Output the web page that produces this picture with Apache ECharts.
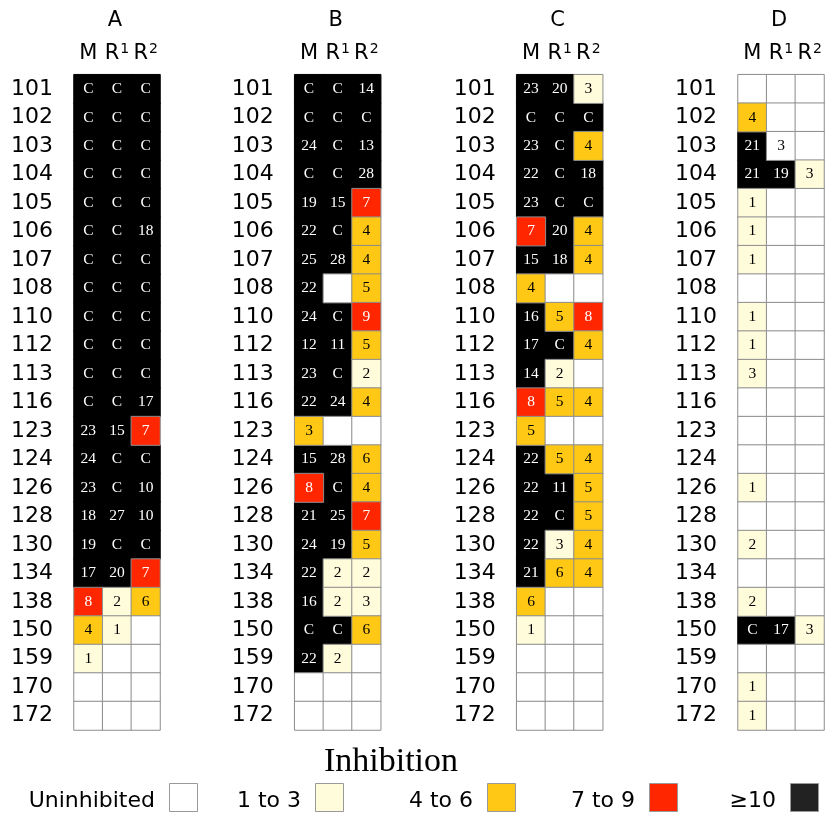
<!DOCTYPE html>
<html><head><meta charset="utf-8">
<script src="https://cdn.jsdelivr.net/npm/echarts@6/dist/echarts.min.js"></script>
<style>html,body{margin:0;padding:0;background:#fff}#c{width:827px;height:814px}</style>
</head><body><div id="c"></div>
<script>
const rows = ['101','102','103','104','105','106','107','108','110','112','113','116','123','124','126','128','130','134','138','150','159','170','172'];
const columns = ['M','R1','R2'];
const panels = ['A','B','C','D'];

const A_M  = ['C','C','C','C','C','C','C','C','C','C','C','C','23','24','23','18','19','17','8','4','1','',''];
const A_R1 = ['C','C','C','C','C','C','C','C','C','C','C','C','15','C','C','27','C','20','2','1','','',''];
const A_R2 = ['C','C','C','C','C','18','C','C','C','C','C','17','7','C','10','10','C','7','6','','','',''];

const B_M  = ['C','C','24','C','19','22','25','22','24','12','23','22','3','15','8','21','24','22','16','C','22','',''];
const B_R1 = ['C','C','C','C','15','C','28','','C','11','C','24','','28','C','25','19','2','2','C','2','',''];
const B_R2 = ['14','C','13','28','7','4','4','5','9','5','2','4','','6','4','7','5','2','3','6','','',''];

const C_M  = ['23','C','23','22','23','7','15','4','16','17','14','8','5','22','22','22','22','21','6','1','','',''];
const C_R1 = ['20','C','C','C','C','20','18','','5','C','2','5','','5','11','C','3','6','','','','',''];
const C_R2 = ['3','C','4','18','C','4','4','','8','4','','4','','4','5','5','4','4','','','','',''];

const D_M  = ['','4','21','21','1','1','1','','1','1','3','','','','1','','2','','2','C','','1','1'];
const D_R1 = ['','','3','19','','','','','','','','','','','','','','','','17','','',''];
const D_R2 = ['','','','3','','','','','','','','','','','','','','','','3','','',''];

// cells whose colour class differs from what the printed number suggests
const levelOverrides = [
  {panel:'B', column:'M', row:'123', level:2},
  {panel:'D', column:'R1', row:'103', level:0}
];

const legendLabels = ['Uninhibited','1 to 3','4 to 6','7 to 9','\u226510'];
const legendTitle = 'Inhibition';

const panelData = {A:[A_M,A_R1,A_R2], B:[B_M,B_R1,B_R2], C:[C_M,C_R1,C_R2], D:[D_M,D_R1,D_R2]};
const fills = ['#ffffff','#fffcdc','#fec815','#ff2600','#000000'];
const legendFills = ['#ffffff','#fffcdc','#fec815','#ff2600','#222222'];

function levelOf(t){
  if (t === '') return 0;
  if (t === 'C') return 4;
  const n = +t;
  return n >= 10 ? 4 : n >= 7 ? 3 : n >= 4 ? 2 : 1;
}

const gridLeft = [74, 294.7, 516.7, 738];
const gridW = 86, gridTop = 74.7, gridH = 655.3;

const grids = [], xAxes = [], yAxes = [], series = [], graphics = [];
panels.forEach((p, i) => {
  grids.push({left: gridLeft[i], top: gridTop, width: gridW, height: gridH, containLabel: false});
  xAxes.push({
    gridIndex: i, type: 'category', data: columns, position: 'top',
    axisLine: {show: false}, axisTick: {show: false}, splitLine: {show: false},
    axisLabel: {
      interval: 0, hideOverlap: false, margin: 10, color: '#000',
      formatter: v => v === 'M' ? '{a|M}' : '{a|R}{s|' + v.slice(1) + '}',
      rich: {
        a: {fontSize: 21, fontFamily: 'DejaVu Sans', color: '#000', lineHeight: 22},
        s: {fontSize: 14, fontFamily: 'DejaVu Sans', color: '#000', verticalAlign: 'top', lineHeight: 13, padding: [0,0,0,1]}
      }
    }
  });
  yAxes.push({
    gridIndex: i, type: 'category', data: rows, inverse: true,
    axisLine: {show: false}, axisTick: {show: false}, splitLine: {show: false},
    axisLabel: {interval: 0, hideOverlap: false, margin: 21, color: '#000', fontSize: 22, fontFamily: 'DejaVu Sans'}
  });
  const items = [];
  panelData[p].forEach((col, c) => {
    col.forEach((t, r) => {
      let lvl = levelOf(t);
      levelOverrides.forEach(o => {
        if (o.panel === p && o.column === columns[c] && o.row === rows[r]) lvl = o.level;
      });
      items.push({
        value: [c, r, lvl], txt: t,
        itemStyle: lvl === 4 ? {borderColor: '#000', borderWidth: 1} : {borderColor: '#8c8c8c', borderWidth: 1},
        label: {color: lvl >= 3 ? '#fff' : '#000'}
      });
    });
  });
  items.sort((a, b) => (b.value[2] === 4) - (a.value[2] === 4));
  series.push({
    type: 'heatmap', xAxisIndex: i, yAxisIndex: i, data: items,
    label: {show: true, formatter: q => q.data.txt, fontFamily: 'Liberation Serif', fontSize: 15.5},
    emphasis: {disabled: true}, silent: true, animation: false
  });
  graphics.push({
    type: 'text', x: gridLeft[i] + gridW / 2 - 2, y: 21,
    style: {text: p, font: '21px "DejaVu Sans"', fill: '#000', textAlign: 'center', textVerticalAlign: 'middle'}
  });
});

graphics.push({
  type: 'text', x: 391, y: 762,
  style: {text: legendTitle, font: '34px "Liberation Serif"', fill: '#000', textAlign: 'center', textVerticalAlign: 'middle'}
});
const boxX = [169, 315, 487, 649, 790];
legendLabels.forEach((lab, k) => {
  graphics.push({
    type: 'rect', shape: {x: boxX[k] + 0.5, y: 783.5, width: 28, height: 28},
    style: {fill: legendFills[k], stroke: '#999', lineWidth: 1}
  });
  graphics.push({
    type: 'text', x: boxX[k] - 14, y: 801,
    style: {text: lab, font: '22px "DejaVu Sans"', fill: '#000', textAlign: 'right', textVerticalAlign: 'middle'}
  });
});

const chart = echarts.init(document.getElementById('c'), null, {renderer: 'canvas'});
chart.setOption({
  animation: false,
  backgroundColor: '#fff',
  grid: grids, xAxis: xAxes, yAxis: yAxes,
  visualMap: {
    type: 'piecewise', show: false, dimension: 2, seriesIndex: [0,1,2,3],
    pieces: fills.map((f, k) => ({value: k, color: f}))
  },
  series: series,
  graphic: graphics
});
</script></body></html>
